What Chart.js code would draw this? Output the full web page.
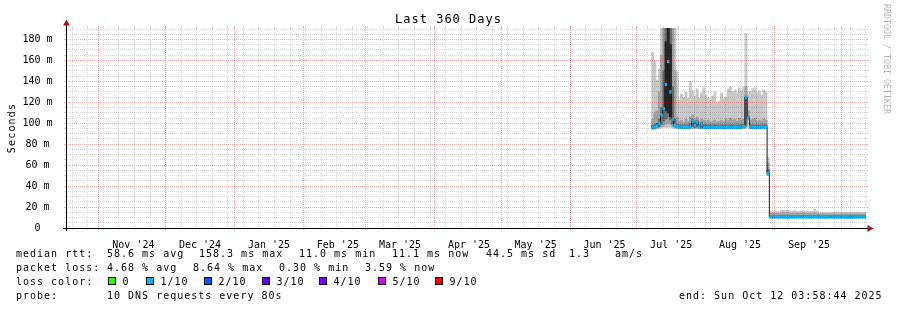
<!DOCTYPE html>
<html>
<head>
<meta charset="utf-8">
<title>Last 360 Days</title>
<script src="https://cdn.jsdelivr.net/npm/chart.js@4.4.1/dist/chart.umd.min.js"></script>
<style>
  html, body { margin: 0; padding: 0; background: #fff; }
  #wrap { width: 897px; height: 310px; position: relative; }
</style>
</head>
<body>
<div id="wrap"><canvas id="rrd"></canvas></div>
<script>
// values, in ms. one sample per day, day 0 = start of the 360 day window
const firstDay = 264;

const rttMin = [
  94.5, 94.5, 95, 95, 95.5, 96, 96, 96, 96, 95.5,
  95, 95, 94.8, 94.8, 94.8, 94.8, 94.8, 94.8, 94.8, 94.8,
  94.8, 94.8, 94.8, 94.8, 94.8, 94.8, 94.8, 94.8, 94.8, 94.8,
  94.8, 94.8, 94.8, 94.8, 94.8, 94.8, 94.8, 94.8, 94.8, 94.8,
  94.8, 94.8, 95, 103.5, 94.8, 94.8, 94.8, 94.8, 94.8, 94.8,
  94.8, 94.8, 50, 10, 10, 10, 10, 10, 10, 10,
  8.8, 8.8, 10, 10, 10, 10, 10, 10, 10, 10,
  10, 8.8, 10, 10, 10, 10, 10, 10, 10, 10,
  10, 10, 8.8, 10, 10, 10, 10, 10, 8.8, 8.8,
  8.8, 10, 10, 10, 10, 10, 10
];
const rttMax = [
  168, 160, 141, 152, 195, 195, 195, 195, 195, 195,
  195, 149, 122, 128, 125, 130, 124, 140, 131, 126,
  133, 124, 129, 134, 127, 125, 122, 126, 130, 119,
  121, 129, 123, 125, 133, 135, 130, 132, 129, 134,
  131, 135, 186, 128, 130, 133, 134, 129, 131, 127,
  132, 130, 68, 15.5, 15.5, 16, 15.5, 15.5, 17, 17,
  17, 17, 16, 16, 16.5, 16, 16, 16, 16.5, 16,
  16, 16, 16, 18, 16, 14.8, 14.8, 15, 14.8, 14.8,
  14.8, 15, 14.8, 14.8, 14.8, 14.8, 15, 14.8, 14.8, 14.8,
  14.8, 14.8, 15, 14.8, 14.8, 14.8, 14.8
];
const midLo = [
  95, 95, 95.5, 96, 97, 98, 99, 100, 99, 97,
  96, 95.5, 95.2, 95.2, 95.2, 95.2, 95.2, 95.2, 96, 95.5,
  96, 95.2, 95.2, 95.2, 95.2, 95.2, 95.2, 95.2, 95.2, 95.2,
  95.2, 95.2, 95.2, 95.2, 95.2, 95.2, 95.2, 95.2, 95.2, 95.2,
  95.2, 95.5, 96, 104, 95.2, 95.2, 95.2, 95.2, 95.2, 95.2,
  95.2, 95.2, 50.5, 10.2, 10.2, 10.2, 10.2, 10.2, 10.2, 10.2,
  10.2, 10.2, 10.2, 10.2, 10.2, 10.2, 10.2, 10.2, 10.2, 10.2,
  10.2, 10.2, 10.2, 10.2, 10.2, 10.2, 10.2, 10.2, 10.2, 10.2,
  10.2, 10.2, 10.2, 10.2, 10.2, 10.2, 10.2, 10.2, 10.2, 10.2,
  10.2, 10.2, 10.2, 10.2, 10.2, 10.2, 10.2
];
const midHi = [
  104, 110, 112, 130, 165, 195, 195, 195, 195, 195,
  150, 106, 102, 103, 101, 104, 102, 106, 108, 104,
  106, 102, 104, 103, 102, 103, 101, 102, 103, 101,
  102, 103, 102, 104, 103, 105, 103, 104, 102, 105,
  103, 104, 135, 112, 103, 104, 105, 102, 103, 102,
  104, 103, 62, 14, 14, 14, 14, 14, 14.5, 14.5,
  14.5, 14.5, 14, 14, 14, 14, 14, 14, 14, 14,
  14, 14, 14, 14.5, 14, 13.5, 13.5, 13.5, 13.5, 13.5,
  13.5, 13.5, 13.5, 13.5, 13.5, 13.5, 13.5, 13.5, 13.5, 13.5,
  13.5, 13.5, 13.5, 13.5, 13.5, 13.5, 13.5
];
const innerLo = [
  95.5, 95.5, 96, 97, 99, 102, 104, 106, 103, 99,
  96.5, 96, 95.6, 95.6, 95.6, 95.6, 95.6, 95.6, 97, 96,
  97, 95.6, 95.6, 95.6, 95.6, 95.6, 95.6, 95.6, 95.6, 95.6,
  95.6, 95.6, 95.6, 95.6, 95.6, 95.6, 95.6, 95.6, 95.6, 95.6,
  95.6, 95.8, 98, 104.5, 95.6, 95.6, 95.6, 95.6, 95.6, 95.6,
  95.6, 95.6, 51, 10.4, 10.4, 10.4, 10.4, 10.4, 10.4, 10.4,
  10.4, 10.4, 10.4, 10.4, 10.4, 10.4, 10.4, 10.4, 10.4, 10.4,
  10.4, 10.4, 10.4, 10.4, 10.4, 10.4, 10.4, 10.4, 10.4, 10.4,
  10.4, 10.4, 10.4, 10.4, 10.4, 10.4, 10.4, 10.4, 10.4, 10.4,
  10.4, 10.4, 10.4, 10.4, 10.4, 10.4, 10.4
];
const innerHi = [
  98, 99, 100, 104, 115, 150, 195, 195, 195, 135,
  104, 99, 98.5, 98.5, 98.5, 98.5, 98.5, 100, 104, 100,
  103, 98.5, 101, 98.5, 98.5, 98.5, 98.5, 98.5, 98.5, 98.5,
  98.5, 98.5, 98.5, 98.5, 98.5, 98.5, 98.5, 98.5, 98.5, 98.5,
  98.5, 99, 125, 107, 98.5, 98.5, 98.5, 98.5, 98.5, 98.5,
  98.5, 98.5, 56, 12, 12, 12, 12, 12, 12, 12,
  12, 12, 12, 12, 12, 12, 12, 12, 12, 12,
  12, 12, 12, 12, 12, 12, 12, 12, 12, 12,
  12, 12, 12, 12, 12, 12, 12, 12, 12, 12,
  12, 12, 12, 12, 12, 12, 12
];
const medianRtt = [
  95.5, 96, 97, 100, 108, 114, 137, 159, 130, 104,
  98, 97, 96.5, 96, 96, 96.5, 96, 97, 102, 98,
  101, 96.5, 99, 96, 96, 96, 96, 96.5, 96, 96,
  96.5, 96, 96, 96, 96.5, 96, 96, 96.5, 96, 96,
  96.5, 97, 125, 105, 96.5, 96, 96, 96, 96, 96.5,
  96, 96, 52, 10.5, 10.5, 10.5, 10.5, 10.5, 10.5, 10.5,
  10.5, 10.5, 10.5, 10.5, 10.5, 10.5, 10.5, 10.5, 10.5, 10.5,
  10.5, 10.5, 10.5, 10.5, 10.5, 10.5, 10.5, 10.5, 10.5, 10.5,
  10.5, 10.5, 10.5, 10.5, 10.5, 10.5, 10.5, 10.5, 10.5, 10.5,
  10.5, 10.5, 10.5, 10.5, 10.5, 10.5, 10.5
];
// the dense black core of the smoke during the early July spike
const coreDays = [270, 271, 272];
const coreLo = [112, 110, 106];
const coreHi = [178, 195, 175];

// time axis, in days from the window start (Oct 17 2024 03:58:44)
const rangeDays = 360;
const monthStarts = [14.83, 44.83, 75.83, 106.83, 134.83, 165.83, 195.83, 226.83, 256.83, 287.83, 318.83, 348.83];
const monthLabels = ["Nov '24", "Dec '24", "Jan '25", "Feb '25", "Mar '25", "Apr '25", "May '25", "Jun '25", "Jul '25", "Aug '25", "Sep '25"];
const firstSunday = 2.83;

const yMax = 191;
const yTicks = [0, 20, 40, 60, 80, 100, 120, 140, 160, 180];

const titleText = 'Last 360 Days';
const yTitle = 'Seconds';
const statsRtt = ['58.6 ms avg', '158.3 ms max', '11.0 ms min', '11.1 ms now', '44.5 ms sd', '1.3', 'am/s'];
const statsLoss = ['4.68 % avg', '8.64 % max', '0.30 % min', '3.59 % now'];
const lossLabels = ['0', '1/10', '2/10', '3/10', '4/10', '5/10', '9/10'];
const lossColors = ['#26ff00', '#00b8ff', '#0059ff', '#5e00ff', '#7e00ff', '#dd00ff', '#ff0000'];
const probeText = '10 DNS requests every 80s';
const endText = 'end: Sun Oct 12 03:58:44 2025';
const watermark = 'RRDTOOL / TOBI OETIKER';

const MONO = '"DejaVu Sans Mono", monospace';

const dayOf = i => firstDay + i;
const band = (lo, hi) => lo.map((v, i) => ({ x: dayOf(i), y: [v, hi[i]] }));

// grid, axes and all the rrdtool style text
const rrdDecor = {
  id: 'rrdDecor',
  afterDatasetsDraw(chart) {
    const { ctx, chartArea: a, scales: { x, y } } = chart;
    const px = v => Math.floor(x.getPixelForValue(v)) + 0.5;
    const py = v => Math.floor(y.getPixelForValue(v)) + 0.5;
    const minorCol = 'rgba(0,0,0,0.15)';
    const majorCol = 'rgba(255,0,0,0.33)';

    ctx.save();
    ctx.lineWidth = 1;

    const hLine = (yy, col) => {
      ctx.strokeStyle = col;
      ctx.setLineDash([]);
      ctx.beginPath();
      ctx.moveTo(a.left - 2, yy); ctx.lineTo(a.left, yy);
      ctx.moveTo(a.right, yy); ctx.lineTo(a.right + 2, yy);
      ctx.stroke();
      ctx.setLineDash([1, 1]);
      ctx.beginPath();
      ctx.moveTo(a.left, yy); ctx.lineTo(a.right, yy);
      ctx.stroke();
    };
    const vLine = (xx, col) => {
      ctx.strokeStyle = col;
      ctx.setLineDash([]);
      ctx.beginPath();
      ctx.moveTo(xx, a.bottom); ctx.lineTo(xx, a.bottom + 2);
      ctx.moveTo(xx, a.top - 2); ctx.lineTo(xx, a.top);
      ctx.stroke();
      ctx.setLineDash([1, 1]);
      ctx.beginPath();
      ctx.moveTo(xx, a.top); ctx.lineTo(xx, a.bottom);
      ctx.stroke();
    };

    for (let v = 5; v < yMax; v += 5) {
      if (v % 20 !== 0) hLine(py(v), minorCol);
    }
    for (let d = firstSunday; d < rangeDays; d += 7) vLine(px(d), minorCol);
    yTicks.forEach(v => { if (v > 0) hLine(py(v), majorCol); });
    monthStarts.forEach(d => vLine(px(d), majorCol));

    // axes
    ctx.setLineDash([]);
    ctx.strokeStyle = '#000';
    ctx.beginPath();
    ctx.moveTo(a.left - 3, a.bottom + 0.5); ctx.lineTo(a.right + 2, a.bottom + 0.5);
    ctx.moveTo(a.left + 0.5, a.bottom + 3); ctx.lineTo(a.left + 0.5, a.top - 4);
    ctx.stroke();

    ctx.fillStyle = '#941c1c';
    ctx.beginPath();
    ctx.moveTo(a.right + 1.5, a.bottom - 3);
    ctx.lineTo(a.right + 7.5, a.bottom + 0.5);
    ctx.lineTo(a.right + 1.5, a.bottom + 4);
    ctx.closePath();
    ctx.fill();
    ctx.beginPath();
    ctx.moveTo(a.left - 3, a.top - 2.5);
    ctx.lineTo(a.left + 0.5, a.top - 8.5);
    ctx.lineTo(a.left + 4, a.top - 2.5);
    ctx.closePath();
    ctx.fill();
    ctx.restore();
  },
  afterDraw(chart) {
    const { ctx, chartArea: a } = chart;
    ctx.save();
    ctx.fillStyle = '#000';
    ctx.textBaseline = 'alphabetic';

    ctx.font = '12px ' + MONO;
    ctx.letterSpacing = '1px';
    ctx.textAlign = 'center';
    ctx.fillText(titleText, chart.width / 2, 23);

    ctx.save();
    ctx.font = '10px ' + MONO;
    ctx.letterSpacing = '1.2px';
    ctx.translate(15, (a.top + a.bottom) / 2);
    ctx.rotate(-Math.PI / 2);
    ctx.fillText(yTitle, 0, 0);
    ctx.restore();

    ctx.save();
    ctx.fillStyle = '#b4b4b4';
    ctx.font = '8.3px ' + MONO;
    ctx.letterSpacing = '0px';
    ctx.textAlign = 'left';
    ctx.translate(884, 4);
    ctx.rotate(Math.PI / 2);
    ctx.fillText(watermark, 0, 0);
    ctx.restore();

    ctx.font = '10px ' + MONO;
    ctx.letterSpacing = '1px';
    ctx.textAlign = 'left';
    const rows = [257, 271, 285, 299];
    const rttX = [107, 199, 299, 392, 486, 569, 615];
    const lossX = [107, 193, 279, 365];
    const boxX = [108, 146, 204, 262, 319, 378, 435];

    ctx.fillText('median rtt:', 16, rows[0]);
    statsRtt.forEach((t, i) => ctx.fillText(t, rttX[i], rows[0]));
    ctx.fillText('packet loss:', 16, rows[1]);
    statsLoss.forEach((t, i) => ctx.fillText(t, lossX[i], rows[1]));
    ctx.fillText('loss color:', 16, rows[2]);
    lossLabels.forEach((t, i) => {
      ctx.fillStyle = lossColors[i];
      ctx.fillRect(boxX[i], rows[2] - 8, 8, 8);
      ctx.strokeStyle = '#000';
      ctx.lineWidth = 1;
      ctx.strokeRect(boxX[i] + 0.5, rows[2] - 7.5, 7, 7);
      ctx.fillStyle = '#000';
      ctx.fillText(t, boxX[i] + 14.5, rows[2]);
    });
    ctx.fillText('probe:', 16, rows[3]);
    ctx.fillText(probeText, 107, rows[3]);
    ctx.fillText(endText, 679, rows[3]);
    ctx.restore();
  }
};

const barBase = { type: 'bar', grouped: false, barPercentage: 1, categoryPercentage: 1, borderWidth: 0, clip: 0 };

new Chart(document.getElementById('rrd'), {
  type: 'line',
  data: {
    datasets: [
      {
        // loss colour of the median, drawn as short flat dashes per sample
        label: 'median loss colour',
        data: medianRtt.map((v, i) => ({ x: dayOf(i), y: v })),
        showLine: false,
        pointStyle: 'line',
        pointRadius: 1.2,
        pointBorderWidth: 3.3,
        borderColor: lossColors[1],
        pointBorderColor: lossColors[1],
        order: 0,
        clip: 0
      },
      {
        label: 'median rtt',
        data: medianRtt.map((v, i) => ({ x: dayOf(i), y: v })),
        stepped: 'middle',
        borderColor: '#1c1c1c',
        borderWidth: 1,
        pointRadius: 0,
        order: 1,
        clip: 0
      },
      Object.assign({}, barBase, {
        label: 'smoke core',
        data: coreDays.map((d, i) => ({ x: d, y: [coreLo[i], coreHi[i]] })),
        backgroundColor: '#262626',
        order: 2
      }),
      Object.assign({}, barBase, {
        label: 'smoke inner',
        data: band(innerLo, innerHi),
        backgroundColor: '#6c6c6c',
        order: 3
      }),
      Object.assign({}, barBase, {
        label: 'smoke mid',
        data: band(midLo, midHi),
        backgroundColor: '#a2a2a2',
        order: 4
      }),
      Object.assign({}, barBase, {
        label: 'smoke outer',
        data: band(rttMin, rttMax),
        backgroundColor: '#c8c8c8',
        order: 5
      })
    ]
  },
  options: {
    responsive: true,
    maintainAspectRatio: false,
    animation: false,
    devicePixelRatio: 1,
    layout: { padding: { top: 28, right: 31, left: 0, bottom: 0 } },
    plugins: {
      legend: { display: false },
      tooltip: { enabled: false },
      title: { display: false }
    },
    scales: {
      x: {
        type: 'linear',
        min: 0,
        max: rangeDays,
        offset: false,
        grid: { display: false },
        border: { display: false },
        afterBuildTicks: scale => {
          scale.ticks = monthStarts.slice(0, monthLabels.length).map(d => ({ value: d + 15.5 }));
        },
        afterFit: scale => { scale.height = 82; },
        ticks: {
          autoSkip: false,
          maxRotation: 0,
          padding: 3.5,
          color: '#000',
          font: { family: MONO, size: 10 },
          callback: (v, i) => monthLabels[i]
        }
      },
      y: {
        type: 'linear',
        min: 0,
        max: yMax,
        grid: { display: false },
        border: { display: false },
        afterBuildTicks: scale => {
          scale.ticks = yTicks.map(v => ({ value: v }));
        },
        afterFit: scale => { scale.width = 66; },
        ticks: {
          crossAlign: 'center',
          padding: 5.5,
          color: '#000',
          font: { family: MONO, size: 10 },
          callback: v => (v === 0 ? '0' : v + ' m')
        }
      }
    }
  },
  plugins: [rrdDecor]
});
</script>
</body>
</html>
